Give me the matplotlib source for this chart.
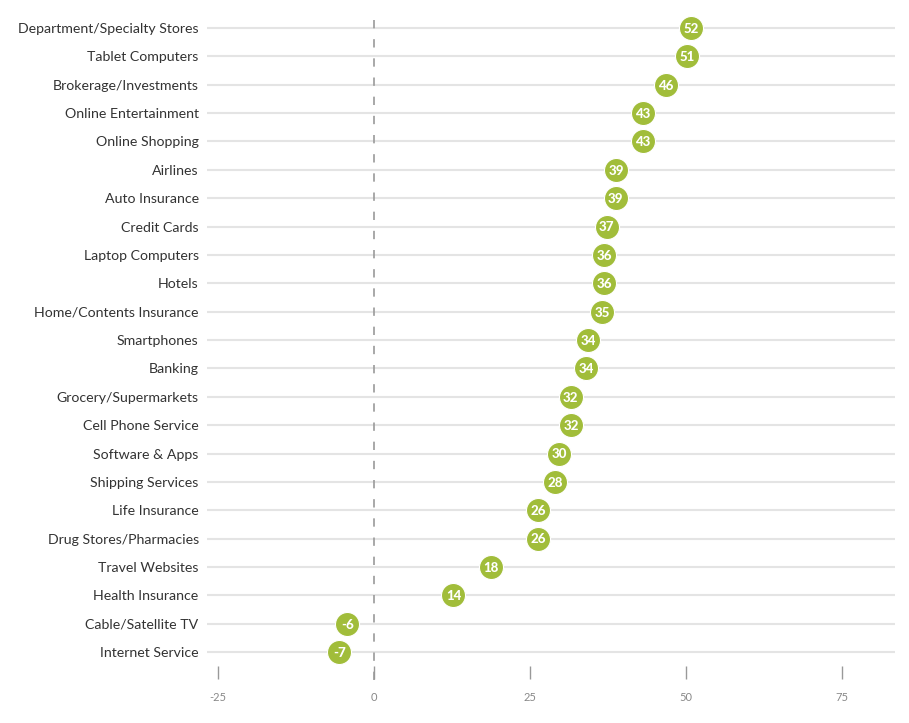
import matplotlib
matplotlib.use('Agg')
import matplotlib.pyplot as plt

# categories, top to bottom
categories = ['Department/Specialty Stores', 'Tablet Computers', 'Brokerage/Investments',
              'Online Entertainment', 'Online Shopping', 'Airlines', 'Auto Insurance',
              'Credit Cards', 'Laptop Computers', 'Hotels', 'Home/Contents Insurance',
              'Smartphones', 'Banking', 'Grocery/Supermarkets', 'Cell Phone Service',
              'Software & Apps', 'Shipping Services', 'Life Insurance',
              'Drug Stores/Pharmacies', 'Travel Websites', 'Health Insurance',
              'Cable/Satellite TV', 'Internet Service']
# where the dots sit on the axis
scores = [50.8, 50.2, 46.8, 43.1, 43.1, 38.8, 38.7, 37.3, 36.9, 36.9, 36.5,
          34.3, 34.0, 31.5, 31.6, 29.7, 29.0, 26.3, 26.3, 18.7, 12.7, -4.3, -5.6]
# printed values inside the dots
labels = [52, 51, 46, 43, 43, 39, 39, 37, 36, 36, 35, 34, 34, 32, 32, 30, 28,
          26, 26, 18, 14, -6, -7]
xticks = [-25, 0, 25, 50, 75]

green = '#a1bd3a'

fig = plt.figure(figsize=(9.09, 7.23), dpi=100)
ax = fig.add_axes([207 / 909, 57 / 723, 688 / 909, 656 / 723])

rows = list(range(len(categories)))

# horizontal gridlines
for r in rows:
    ax.axhline(r, color='#e4e4e4', lw=1.5, zorder=1)

# dashed zero line
ax.plot([0, 0], [23.0, -0.65], color='#9a9a9a', lw=1.2, ls=(0, (5, 6.5)),
        zorder=2, clip_on=False)

ax.scatter(scores, rows, s=300, color=green, edgecolors='white', linewidths=0.8, zorder=3)
for x, r, v in zip(scores, rows, labels):
    ax.text(x, r + 0.03, str(v), color='white', fontsize=9.5, fontweight='black',
            ha='center', va='center', family='Lato', zorder=4)

ax.set_xlim(-26.8, 83.5)
ax.set_ylim(22.49, -0.635)

ax.set_yticks(rows)
ax.set_yticklabels(categories, fontsize=10.2, color='#333333', family='Lato')
ax.tick_params(axis='y', length=0, pad=6)

ax.set_xticks(xticks)
ax.set_xticklabels([str(t) for t in xticks], fontsize=8, color='#888888', family='Lato')
ax.tick_params(axis='x', length=9, width=1, color='#999999', pad=10)

for s in ax.spines.values():
    s.set_visible(False)

fig.savefig('out.png', dpi=100)
